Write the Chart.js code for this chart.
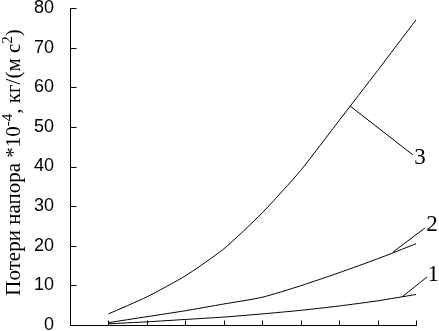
<!DOCTYPE html>
<html>
<head>
<meta charset="utf-8">
<script src="https://cdn.jsdelivr.net/npm/chart.js@4/dist/chart.umd.min.js"></script>
<style>
  html, body { margin: 0; padding: 0; background: #fff; }
  #wrap { width: 439px; height: 331px; position: relative; }
</style>
</head>
<body>
<div id="wrap"><canvas id="chart"></canvas></div>
<script>
// данные кривых (точки по делениям оси X)
const xVals = [1, 2, 3, 4, 5, 6, 7, 8, 9];
const curve1 = [0.3, 0.8, 1.4, 2.0, 2.8, 3.7, 4.8, 6.1, 7.7];
const curve2 = [0.6, 2.1, 3.6, 5.3, 7.0, 9.9, 13.2, 16.7, 20.5];
const curve3 = [2.8, 7.1, 12.4, 19.2, 28.3, 39.0, 51.6, 64.2, 77.0];

// подписи кривых и точки, куда идут выноски
const curveNames = ["1", "2", "3"];
const leaderX = [8.64, 8.4, 7.28];
const leaderY = [7.1, 18.4, 55.3];

// подпись оси Y: [текст, верхний индекс?]
const yTitle = [
  ["Потери напора *10", false],
  ["-4", true],
  [", кг/(м с", false],
  ["2", true],
  [")", false],
];

const toPoints = (ys) => xVals.map((x, i) => ({ x, y: ys[i] }));

// засечки внутрь, подпись оси и выноски с номерами
const marksPlugin = {
  id: "marks",
  afterDraw(chart) {
    const { ctx } = chart;
    const xs = chart.scales.x, ys = chart.scales.y;
    const left = Math.round(chart.chartArea.left) + 0.5;
    const bottom = Math.round(chart.chartArea.bottom) + 0.5;
    ctx.save();
    ctx.strokeStyle = "#000";
    ctx.lineWidth = 1;
    ctx.beginPath();
    ys.ticks.forEach((t) => {
      const py = Math.round(ys.getPixelForValue(t.value)) + 0.5;
      ctx.moveTo(left, py);
      ctx.lineTo(left + 6, py);
    });
    xs.ticks.forEach((t) => {
      const px = Math.round(xs.getPixelForValue(t.value)) + 0.5;
      ctx.moveTo(px, bottom);
      ctx.lineTo(px, bottom - 5);
    });
    ctx.stroke();

    // подпись оси Y (повёрнута, с верхними индексами)
    const big = "21px 'Liberation Serif'", small = "15px 'Liberation Serif'";
    let total = 0;
    yTitle.forEach(([s, sup]) => {
      ctx.font = sup ? small : big;
      total += ctx.measureText(s).width;
    });
    const cy = (chart.chartArea.top + chart.chartArea.bottom) / 2 - 4;
    ctx.save();
    ctx.translate(20, cy);
    ctx.rotate(-Math.PI / 2);
    ctx.fillStyle = "#000";
    ctx.textBaseline = "alphabetic";
    ctx.textAlign = "left";
    let pos = -total / 2;
    yTitle.forEach(([s, sup]) => {
      ctx.font = sup ? small : big;
      ctx.fillText(s, pos, sup ? -8 : 0);
      pos += ctx.measureText(s).width;
    });
    ctx.restore();

    // смещения конца выноски и текста (px)
    const offs = [
      { lx: 25, ly: -20, tx: 31, ty: -22 },
      { lx: 32, ly: -24, tx: 39, ty: -27 },
      { lx: 63, ly: 49, tx: 70, ty: 52 },
    ];
    ctx.font = "23px 'Liberation Serif'";
    ctx.fillStyle = "#000";
    ctx.textAlign = "center";
    ctx.textBaseline = "middle";
    curveNames.forEach((name, i) => {
      const ax = xs.getPixelForValue(leaderX[i]);
      const ay = ys.getPixelForValue(leaderY[i]);
      const o = offs[i];
      ctx.beginPath();
      ctx.moveTo(ax, ay);
      ctx.lineTo(ax + o.lx, ay + o.ly);
      ctx.stroke();
      ctx.fillText(name, ax + o.tx, ay + o.ty);
    });
    ctx.restore();
  },
};

const lineStyle = {
  borderColor: "#000",
  borderWidth: 1,
  pointRadius: 0,
  tension: 0.2,
  fill: false,
};

new Chart(document.getElementById("chart"), {
  type: "line",
  data: {
    datasets: [
      { label: "1", data: toPoints(curve1), ...lineStyle },
      { label: "2", data: toPoints(curve2), ...lineStyle },
      { label: "3", data: toPoints(curve3), ...lineStyle },
    ],
  },
  options: {
    responsive: true,
    maintainAspectRatio: false,
    animation: false,
    devicePixelRatio: 1,
    layout: { padding: { top: 8, right: 23, bottom: 6, left: 0 } },
    plugins: { legend: { display: false }, tooltip: { enabled: false } },
    scales: {
      x: {
        type: "linear",
        min: 0,
        max: 9,
        ticks: { display: false, stepSize: 1 },
        grid: { drawOnChartArea: false, drawTicks: false },
        border: { color: "#000", width: 1 },
        afterFit(scale) { scale.height = 0; scale.paddingLeft = 0; scale.paddingRight = 0; },
      },
      y: {
        min: 0,
        max: 80,
        ticks: {
          stepSize: 10,
          color: "#000",
          padding: 16,
          font: { family: "'Liberation Sans'", size: 18 },
        },
        grid: { drawOnChartArea: false, drawTicks: false },
        border: { color: "#000", width: 1 },
        afterFit(scale) { scale.width = 70; scale.paddingTop = 0; scale.paddingBottom = 0; },
      },
    },
  },
  plugins: [marksPlugin],
});
</script>
</body>
</html>
